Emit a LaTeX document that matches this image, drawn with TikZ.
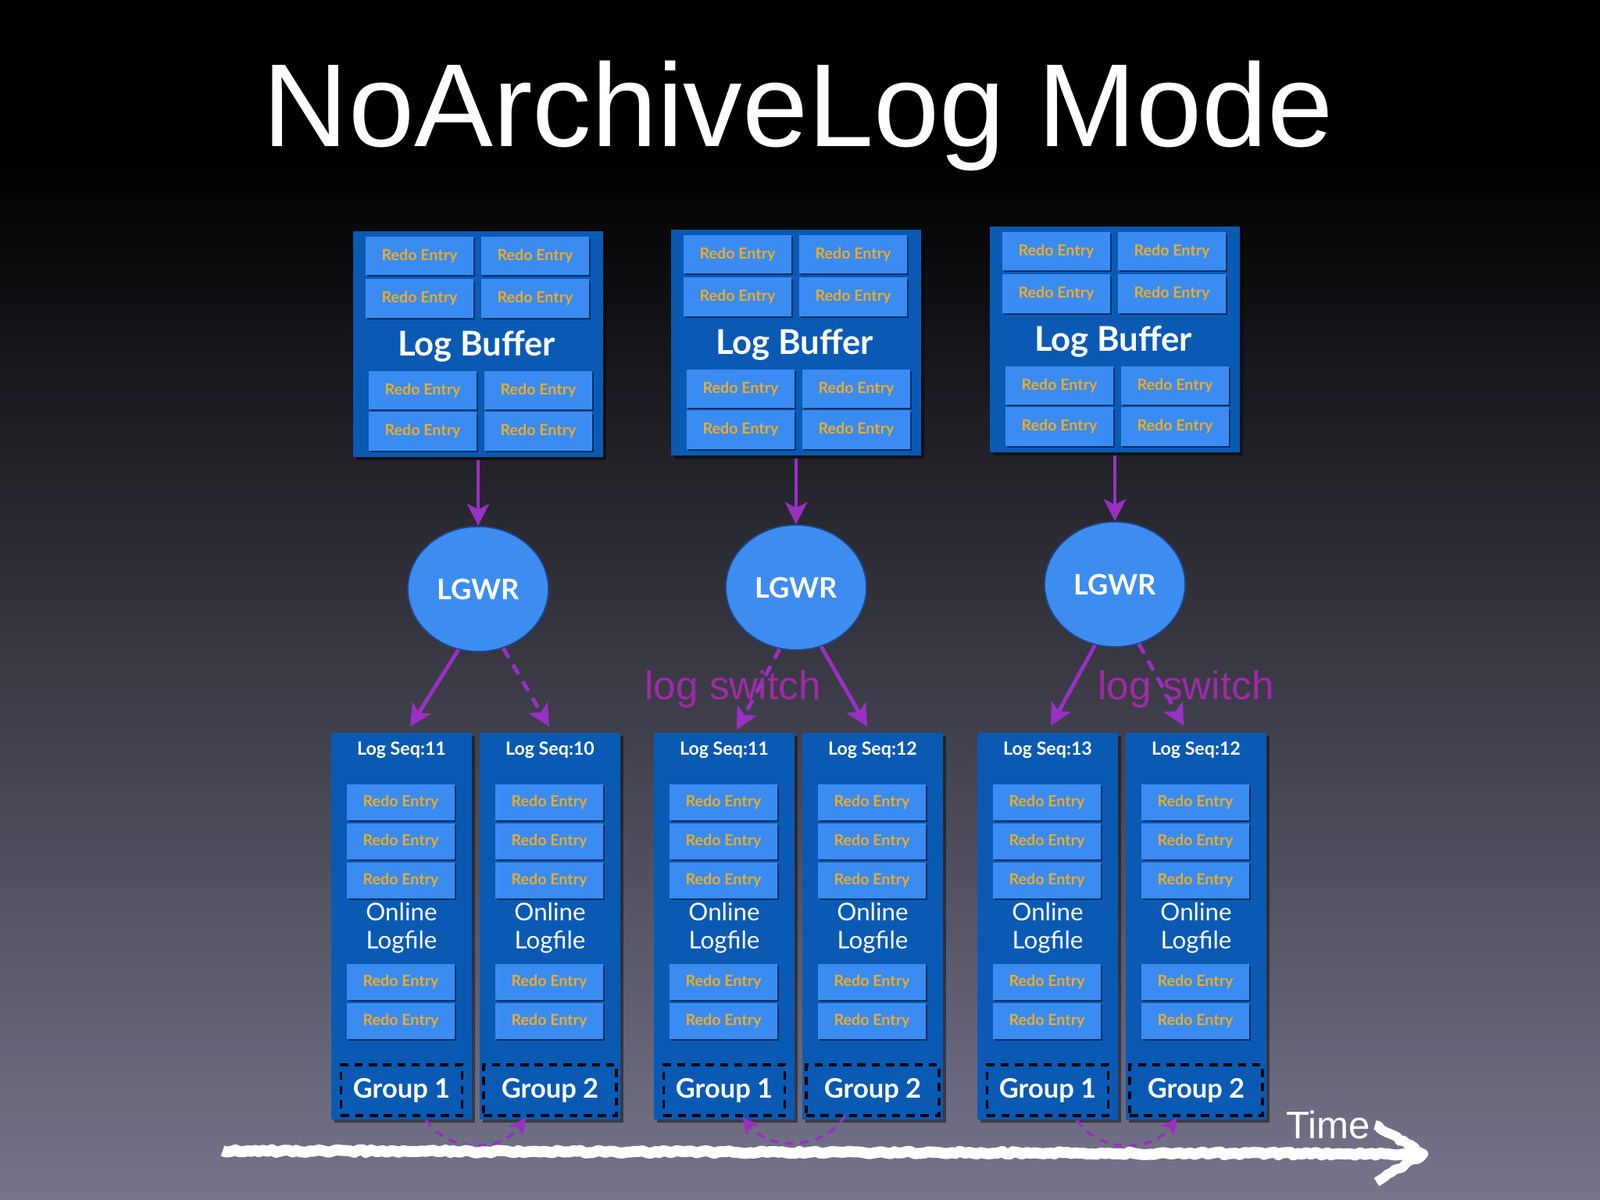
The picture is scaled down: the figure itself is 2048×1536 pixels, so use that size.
\documentclass[tikz,border=0pt]{standalone}
\usepackage{fontspec}
\setmainfont{Lato}
\newfontfamily\helvfont{Liberation Sans}
\usepackage{tikz}
\usetikzlibrary{arrows.meta}
\usetikzlibrary{shapes.geometric}
\usetikzlibrary{shadows}
\usetikzlibrary{decorations.pathmorphing}
\definecolor{bufblue}{RGB}{10,90,180}
\definecolor{entryblue}{RGB}{58,140,242}
\definecolor{entrytext}{RGB}{236,172,40}
\definecolor{lgwrblue}{RGB}{61,141,240}
\definecolor{lgwrrim}{RGB}{30,70,140}
\definecolor{flowpurple}{RGB}{152,48,196}
\definecolor{switchtext}{RGB}{160,42,168}
\definecolor{bgmid}{RGB}{36,34,66}
\definecolor{bgbottom}{RGB}{118,117,140}
\tikzset{title/.style = {text=white, inner sep=0, font=\helvfont\fontsize{43}{50}\selectfont}}
\tikzset{panel/.style = {fill=bufblue, inner sep=0,
                         drop shadow={shadow xshift=1.2pt, shadow yshift=-1.2pt, opacity=0.45, fill=black}}}
\tikzset{entry/.style = {fill=entryblue, text=entrytext, inner sep=0, minimum width=1.38cm, minimum height=0.46cm,
                         font=\bfseries\fontsize{5.6}{6}\selectfont,
                         drop shadow={shadow xshift=0.5pt, shadow yshift=-0.7pt, opacity=0.45, fill=black}}}
\tikzset{bigtext/.style = {text=white, inner sep=0, font=\bfseries\fontsize{12.4}{14}\selectfont}}
\tikzset{midtext/.style = {text=white, inner sep=0, align=center, font=\fontsize{8.9}{10.4}\selectfont}}
\tikzset{seqtext/.style = {text=white, inner sep=0, font=\bfseries\fontsize{6.6}{8}\selectfont}}
\tikzset{lgwr/.style = {ellipse, fill=lgwrblue, draw=lgwrrim, line width=0.5pt, inner sep=0,
                        minimum width=1.8cm, minimum height=1.6cm, text=white, font=\bfseries\fontsize{10.3}{12}\selectfont}}
\tikzset{grpbox/.style = {draw=black, line width=1.1pt, dash pattern=on 3pt off 2.2pt, inner sep=0,
                          minimum height=0.65cm, text=white, font=\bfseries\fontsize{9.8}{12}\selectfont}}
\tikzset{flow/.style = {draw=flowpurple, line width=1.4pt, -{Stealth[length=8pt, width=8pt, inset=2pt]}}}
\tikzset{flowdash/.style = {flow, dash pattern=on 4pt off 3pt}}
\tikzset{swarrow/.style = {draw=flowpurple, line width=1pt, dash pattern=on 3pt off 2.5pt,
                           -{Stealth[length=6pt, width=6pt, inset=1.5pt]}}}
\tikzset{swtext/.style = {text=switchtext, inner sep=0, font=\helvfont\fontsize{14.6}{16}\selectfont}}
\tikzset{timetext/.style = {text=white, inner sep=0, font=\helvfont\fontsize{14}{16}\selectfont}}
\tikzset{chalk/.style = {draw=white, line width=4pt, line join=round,
                         decorate, decoration={random steps, segment length=1.5pt, amplitude=0.5pt}}}

\begin{document}
\begin{tikzpicture}[x=0.01cm, y=-0.01cm]
  \useasboundingbox (0,0) rectangle (2048,1536);
  \fill [black] (0,0) rectangle (2048,1536);
  \shade [top color=black, middle color=bgmid, bottom color=bgbottom] (0,200) rectangle (2048,1536);

  \node [title, anchor=base] (title) at (1022,187) {NoArchiveLog Mode};

  \foreach \i/\bx/\bt/\lx/\sa/\sb in {1/612/296/609/11/10, 2/1019/294/1022/11/12, 3/1427/290/1436/13/12} {
    \node [panel, minimum width=3.2cm, minimum height=2.89cm] (buf\i) at (\bx,\bt+144.5) {};
    \foreach \dx/\dy [count=\k] in {-75/31.5, 73/31.5, -75/86, 73/86, -71/203.5, 77/203.5, -71/256, 77/256}
      \node [entry, minimum height=0.49cm] (buf\i e\k) at (\bx+\dx,\bt+\dy) {Redo Entry};
    \node [bigtext] (buf\i t) at (\bx-2,\bt+147) {Log Buffer};
    \node [lgwr] (lgwr\i) at (\bx,\bt+458) {LGWR};
    \draw [flow, shorten <=1pt] (buf\i) -- (lgwr\i);
    \foreach \s/\dx/\seq/\gw/\g in {a/-95/\sa/1.55/1, b/95/\sb/1.7/2} {
      \node [panel, minimum width=1.8cm, minimum height=4.95cm] (log\i\s) at (\lx+\dx,1185.5) {};
      \node [seqtext] (seq\i\s) at (\lx+\dx,960) {Log Seq:\seq};
      \foreach \dy [count=\k] in {1026.5, 1076.5, 1126.5, 1257, 1307}
        \node [entry] (log\i\s e\k) at (\lx+\dx-1,\dy) {Redo Entry};
      \node [midtext] (name\i\s) at (\lx+\dx,1188) {Online\\Logfile};
      \node [grpbox, minimum width=\gw cm] (grp\i\s) at (\lx+\dx,1395.5) {Group \g};
    }
  }

  \node [swtext, anchor=base] (sw2) at (938,895) {log switch};
  \node [swtext, anchor=base] (sw3) at (1518,895) {log switch};

  \coordinate (tip1a) at (525,930);
  \coordinate (tip1b) at (703,930);
  \coordinate (tip2a) at (943,934);
  \coordinate (tip2b) at (1110,930);
  \coordinate (tip3a) at (1345,929);
  \coordinate (tip3b) at (1515,929);
  \draw [flow] (lgwr1.-108) -- (tip1a);
  \draw [flowdash] (lgwr1.-67) -- (tip1b);
  \draw [flowdash] (lgwr2.-105) -- (tip2a);
  \draw [flow] (lgwr2.-67) -- (tip2b);
  \draw [flow] (lgwr3.-108) -- (tip3a);
  \draw [flowdash] (lgwr3.-68) -- (tip3b);

  \draw [swarrow] ([xshift=0.31cm]log1a.south) .. controls +(30,42) and +(-33,45) .. ([xshift=-0.31cm,yshift=0.03cm]log1b.south);
  \draw [swarrow] ([xshift=-0.355cm,yshift=0.05cm]log2b.south) .. controls +(-30,45) and +(33,42) .. ([xshift=0.235cm,yshift=0.04cm]log2a.south);
  \draw [swarrow] ([xshift=0.37cm]log3a.south) .. controls +(30,42) and +(-33,45) .. ([xshift=-0.245cm,yshift=0.03cm]log3b.south);

  \coordinate (t0) at (285,1473);
  \coordinate (t1) at (1822,1477);
  \coordinate (h1) at (1760,1440);
  \coordinate (h2) at (1762,1513);
  \draw [chalk, shorten >=2pt] (t0) -- (t1);
  \draw [chalk, line width=3.5pt] (h1) -- (t1) -- (h2);
  \node [timetext] (time) at (1700,1440) {Time};
\end{tikzpicture}
\end{document}
